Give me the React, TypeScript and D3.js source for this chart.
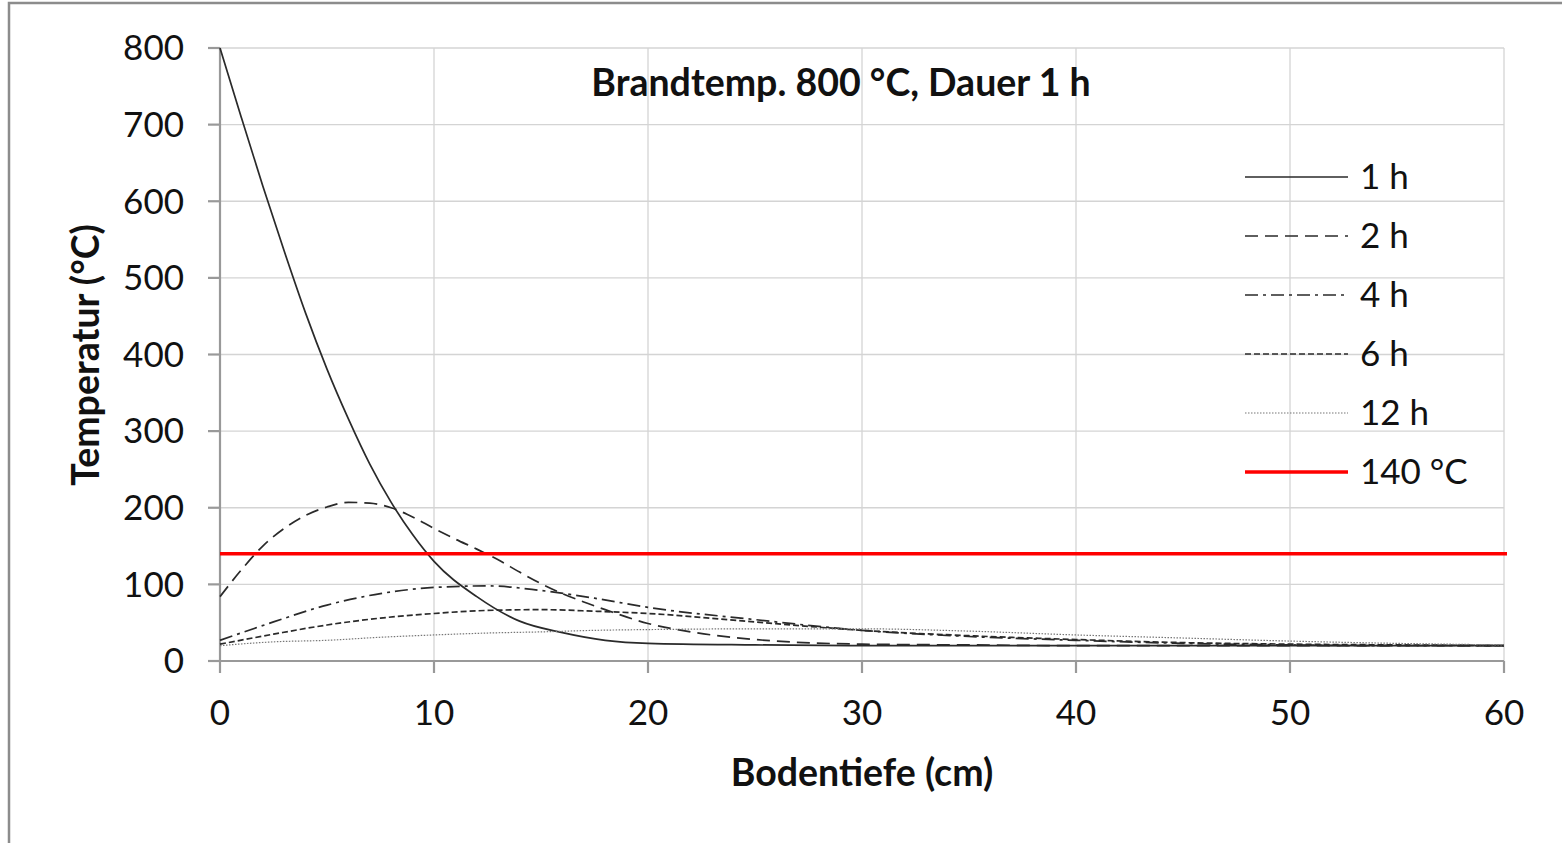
import React from 'react';
import * as d3 from 'd3';

// depth in cm, temperature in °C
const depth1h = [0, 1, 2, 3, 4, 5, 6, 7, 8, 9, 10, 12, 14, 16, 18, 20, 25, 30, 40, 50, 60];
const temp1h = [800, 709, 620, 535, 454, 381, 316, 257, 207, 165, 130, 84, 52, 37, 27, 23, 21, 20, 20, 20, 20];

const depth2h = [0, 1, 2, 3, 4, 5, 6, 7, 8, 9, 10, 11, 12, 13, 14, 15, 16, 17, 18, 20, 22, 25, 30, 35, 40, 50, 60];
const temp2h = [84, 119, 150, 173, 190, 201, 207, 206, 200, 188, 173, 159, 146, 132, 116, 101, 88, 77, 67, 49, 38, 28, 22, 21, 20, 20, 20];

const depthWide = [0, 2.5, 5, 7.5, 10, 12.5, 15, 17.5, 20, 25, 30, 35, 40, 45, 50, 55, 60];
const temp4h = [27, 51, 73, 88, 96, 98, 92, 82, 70, 54, 40, 32, 27, 23, 21, 20, 20];
const temp6h = [22, 35, 47, 56, 62, 66, 67, 65, 62, 51, 40, 33, 28, 24, 22, 21, 20];
const temp12h = [20, 25, 27, 31, 34, 36.5, 38, 40, 41, 42, 42, 39, 34, 30, 26, 23, 21];

const limitTemp = 140;
const xTicks = [0, 10, 20, 30, 40, 50, 60];
const yTicks = [0, 100, 200, 300, 400, 500, 600, 700, 800];

const series = [
  { label: '1 h', xs: depth1h, ys: temp1h, dash: 'none', width: 1.7, color: '#2a2a2a' },
  { label: '2 h', xs: depth2h, ys: temp2h, dash: '13,7', width: 1.7, color: '#2a2a2a' },
  { label: '4 h', xs: depthWide, ys: temp4h, dash: '13,5,3,5', width: 1.7, color: '#2a2a2a' },
  { label: '6 h', xs: depthWide, ys: temp6h, dash: '6,3', width: 1.7, color: '#2a2a2a' },
  { label: '12 h', xs: depthWide, ys: temp12h, dash: '1.5,1.5', width: 1.2, color: '#777' },
];

const font = 'Lato, "Open Sans", sans-serif';

const App = () => {
  const svgWidth = 1562;
  const svgHeight = 843;
  const margin = { left: 220, top: 48, right: 58, bottom: 182 };

  const x = d3.scaleLinear().domain([0, 60]).range([margin.left, svgWidth - margin.right]);
  const y = d3.scaleLinear().domain([0, 800]).range([svgHeight - margin.bottom, margin.top]);

  const line = d3.line<[number, number]>()
    .x(d => x(d[0]))
    .y(d => y(d[1]))
    .curve(d3.curveMonotoneX);

  const gridColor = '#d4d4d4';
  const axisColor = '#999';
  const fontSize = 35;
  const titleSize = 37.5;

  const legendX = 1245;
  const legendY = 177;
  const legendStep = 59;

  return (
    <svg width={svgWidth} height={svgHeight} style={{ position: 'absolute', left: 0, top: 0 }}>
      <rect x={9} y={3} width={1600} height={900} fill="white" stroke="#8c8c8c" strokeWidth={2.5} />

      {/* grid */}
      {yTicks.map(t => (
        <line key={'gy' + t} x1={x(0)} x2={x(60)} y1={y(t)} y2={y(t)} stroke={gridColor} strokeWidth={1.3} />
      ))}
      {xTicks.map(t => (
        <line key={'gx' + t} x1={x(t)} x2={x(t)} y1={y(0)} y2={y(800)} stroke={gridColor} strokeWidth={1.3} />
      ))}

      {/* axes */}
      <line x1={x(0)} x2={x(0)} y1={y(0)} y2={y(800)} stroke={axisColor} strokeWidth={2.2} />
      <line x1={x(0)} x2={x(60)} y1={y(0)} y2={y(0)} stroke={axisColor} strokeWidth={2.2} />
      <g fontFamily={font} fontSize={fontSize} fill="#111">
        {yTicks.map(t => (
          <g key={'ty' + t}>
            <line x1={x(0) - 12} x2={x(0)} y1={y(t)} y2={y(t)} stroke={axisColor} strokeWidth={2.2} />
            <text x={184} y={y(t)} dy="0.35em" textAnchor="end">{t}</text>
          </g>
        ))}
        {xTicks.map(t => (
          <g key={'tx' + t}>
            <line x1={x(t)} x2={x(t)} y1={y(0)} y2={y(0) + 12} stroke={axisColor} strokeWidth={2.2} />
            <text x={x(t)} y={713} dy="0.35em" textAnchor="middle">{t}</text>
          </g>
        ))}
      </g>

      {/* curves */}
      {series.map(s => (
        <path
          key={s.label}
          d={line(s.xs.map((v, i) => [v, s.ys[i]] as [number, number])) || ''}
          fill="none"
          stroke={s.color}
          strokeWidth={s.width}
          strokeDasharray={s.dash}
        />
      ))}
      <line x1={x(0)} x2={x(60) + 3} y1={y(limitTemp)} y2={y(limitTemp)} stroke="#ff0000" strokeWidth={3.5} />

      {/* legend */}
      <g fontFamily={font} fontSize={fontSize} fill="#111">
        {series.map((s, i) => (
          <g key={'lg' + s.label}>
            <line x1={legendX} x2={legendX + 103} y1={legendY + i * legendStep} y2={legendY + i * legendStep}
              stroke={s.color} strokeWidth={s.width} strokeDasharray={s.dash} />
            <text x={legendX + 115} y={legendY + i * legendStep} dy="0.35em">{s.label}</text>
          </g>
        ))}
        <line x1={legendX} x2={legendX + 103} y1={legendY + 5 * legendStep} y2={legendY + 5 * legendStep}
          stroke="#ff0000" strokeWidth={3.5} />
        <text x={legendX + 115} y={legendY + 5 * legendStep} dy="0.35em">{limitTemp} °C</text>
      </g>

      {/* titles */}
      <g fontFamily={font} fontWeight="bold" fill="#111">
        <text x={841} y={83} dy="0.35em" textAnchor="middle" fontSize={titleSize}>Brandtemp. 800 °C, Dauer 1 h</text>
        <text x={862} y={773} dy="0.35em" textAnchor="middle" fontSize={titleSize}>Bodentiefe (cm)</text>
        <text transform="translate(86,355) rotate(-90)" dy="0.35em" textAnchor="middle" fontSize={titleSize}>Temperatur (°C)</text>
      </g>
    </svg>
  );
};

export default App;
